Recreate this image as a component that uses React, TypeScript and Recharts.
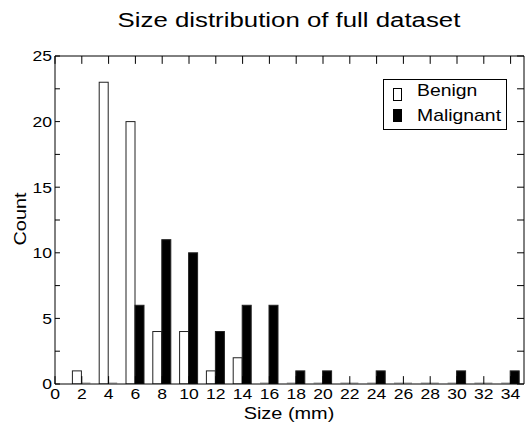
import React from 'react';
import { BarChart, Bar, XAxis, YAxis, ReferenceLine } from 'recharts';

// histogram bins (mm), one bar per series per bin
const sizes = [2, 4, 6, 8, 10, 12, 14, 16, 18, 20, 22, 24, 26, 28, 30, 32, 34];
const benign = [1, 23, 20, 4, 4, 1, 2, 0, 0, 0, 0, 0, 0, 0, 0, 0, 0];
const malignant = [0, 0, 6, 11, 10, 4, 6, 6, 1, 1, 0, 1, 0, 0, 1, 0, 1];
const xTicks = [0, 2, 4, 6, 8, 10, 12, 14, 16, 18, 20, 22, 24, 26, 28, 30, 32, 34];
const yTicks = [0, 2.5, 5, 7.5, 10, 12.5, 15, 17.5, 20, 22.5, 25];
const seriesNames = ['Benign', 'Malignant'];

const data = sizes.map((s, i) => ({ size: s, benign: benign[i], malignant: malignant[i] }));

const X_MAX = 35;
const Y_MAX = 25;
// inward tick lengths, in data units (about 8px vertical, 5-7px horizontal)
const TICK_V = 0.6;
const TICK_L = 0.37;
const TICK_R = 0.52;

const FONT = '"Liberation Sans", Arial, Helvetica, sans-serif';
const STRETCH = 1.17; // reference text is a wide helvetica

function HistBar(props: any) {
    const { x, y, width, height, fill } = props;
    if (!height) {
        // empty bins show as a flat outline on the baseline
        return <line x1={x} x2={x + width} y1={y - 1} y2={y - 1} stroke="#999" strokeWidth={1} />;
    }
    return <rect x={x} y={y} width={width} height={height} fill={fill} stroke="#222" strokeWidth={1} />;
}

function XTick(props: any) {
    const { x, y, payload } = props;
    return (
        <text transform={`translate(${x},${y + 10.7}) scale(${STRETCH},1)`} textAnchor="middle" fontSize={15} fill="#000" fontFamily={FONT}>
            {payload.value}
        </text>
    );
}

function YTick(props: any) {
    const { x, y, payload } = props;
    if (payload.value % 5 !== 0) return null;
    return (
        <text transform={`translate(${x},${y + 5.4}) scale(${STRETCH},1)`} textAnchor="end" fontSize={15} fill="#000" fontFamily={FONT}>
            {payload.value}
        </text>
    );
}

const frame = { stroke: '#000' };

function App() {
    return (
        <div style={{ position: 'absolute', left: 0, top: 0, width: 529, height: 425, background: '#fff', fontFamily: FONT, color: '#000' }}>
            <div style={{ position: 'absolute', left: 89, top: 10, width: 400, textAlign: 'center', fontSize: 20, lineHeight: '20px', transform: 'scaleX(1.29)', whiteSpace: 'nowrap' }}>
                Size distribution of full dataset
            </div>

            <BarChart
                width={529}
                height={425}
                data={data}
                margin={{ top: 56, right: 5, bottom: 0, left: 0 }}
                barSize={9}
                barGap={0}
            >
                <XAxis
                    dataKey="size"
                    type="number"
                    domain={[0, X_MAX]}
                    ticks={xTicks}
                    allowDataOverflow
                    height={41}
                    interval={0}
                    tickSize={0}
                    tickMargin={4}
                    tickLine={false}
                    tick={XTick}
                    axisLine={frame}
                />
                <YAxis
                    type="number"
                    domain={[0, Y_MAX]}
                    ticks={yTicks}
                    allowDataOverflow
                    width={55}
                    interval={0}
                    tickSize={0}
                    tickMargin={3}
                    tickLine={false}
                    tick={YTick}
                    axisLine={frame}
                />
                <Bar dataKey="benign" name={seriesNames[0]} fill="#fff" shape={HistBar} isAnimationActive={false} />
                <Bar dataKey="malignant" name={seriesNames[1]} fill="#000" shape={HistBar} isAnimationActive={false} />

                {/* closed frame with inward ticks */}
                <ReferenceLine y={Y_MAX} stroke="#000" ifOverflow="visible" />
                <ReferenceLine x={X_MAX} stroke="#000" ifOverflow="visible" />
                {xTicks.map((t) => (
                    <ReferenceLine key={`t${t}`} segment={[{ x: t, y: Y_MAX }, { x: t, y: Y_MAX - TICK_V }]} stroke="#000" ifOverflow="visible" />
                ))}
                {xTicks.map((t) => (
                    <ReferenceLine key={`b${t}`} segment={[{ x: t, y: 0 }, { x: t, y: TICK_V }]} stroke="#000" ifOverflow="visible" />
                ))}
                {yTicks.map((t) => (
                    <ReferenceLine key={`l${t}`} segment={[{ x: 0, y: t }, { x: TICK_L, y: t }]} stroke="#000" ifOverflow="visible" />
                ))}
                {yTicks.map((t) => (
                    <ReferenceLine key={`r${t}`} segment={[{ x: X_MAX, y: t }, { x: X_MAX - TICK_R, y: t }]} stroke="#000" ifOverflow="visible" />
                ))}
            </BarChart>

            <div style={{ position: 'absolute', left: 249, top: 405, width: 80, textAlign: 'center', fontSize: 17, lineHeight: '17px', transform: `scaleX(${STRETCH})`, whiteSpace: 'nowrap' }}>
                Size (mm)
            </div>
            <div style={{ position: 'absolute', left: -19, top: 209, width: 80, height: 20, textAlign: 'center', fontSize: 17, lineHeight: '20px', transform: `rotate(-90deg) scaleX(${STRETCH})`, whiteSpace: 'nowrap' }}>
                Count
            </div>

            <div style={{ position: 'absolute', left: 383, top: 79, width: 122, height: 49, border: '1px solid #000', background: '#fff' }}>
                {seriesNames.map((name, i) => (
                    <React.Fragment key={name}>
                        <div style={{ position: 'absolute', left: 9, top: 7.5 + i * 21.5, width: 9, height: 13, border: '1px solid #000', boxSizing: 'border-box', background: i === 0 ? '#fff' : '#000' }} />
                        <div style={{ position: 'absolute', left: 33, top: 2.3 + i * 25, fontSize: 17, lineHeight: '17px', whiteSpace: 'nowrap', transform: 'scaleX(1.14)', transformOrigin: 'left center' }}>
                            {name}
                        </div>
                    </React.Fragment>
                ))}
            </div>
        </div>
    );
}

export default App;
